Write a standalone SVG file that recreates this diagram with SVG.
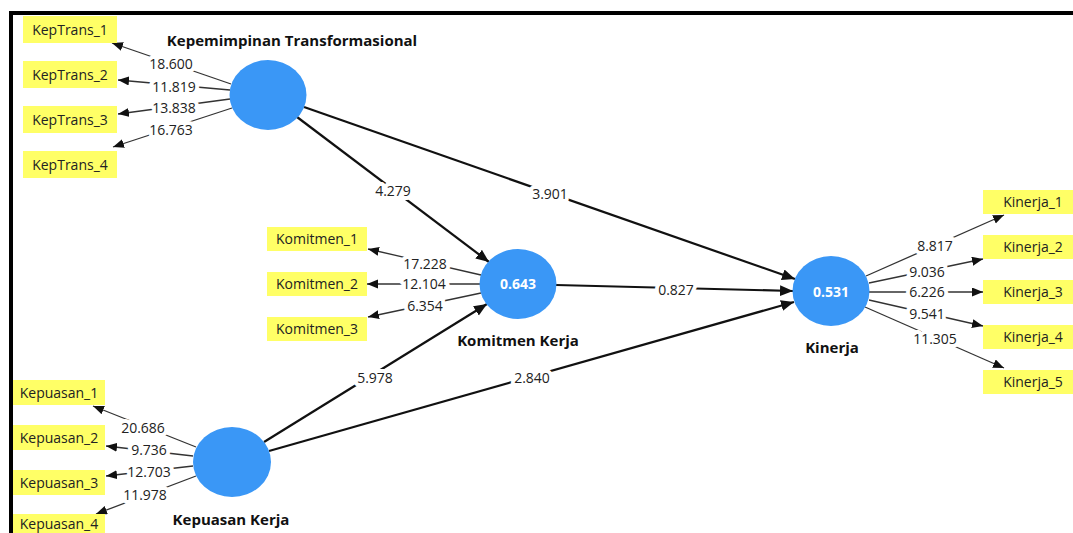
<svg xmlns="http://www.w3.org/2000/svg" width="1073" height="533" viewBox="0 0 1073 533">
<style>
  .box { fill: #ffff66; }
  .boxt { font-family: "Open Sans", "Noto Sans", sans-serif; font-size: 14px; fill: #222; text-anchor: middle; }
  .lv { fill: #3a97f6; }
  .lvname { font-family: "Open Sans", "Noto Sans", sans-serif; font-size: 15px; font-weight: bold; fill: #111; text-anchor: middle; }
  .r2 { font-family: "Open Sans", "Noto Sans", sans-serif; font-size: 14px; font-weight: bold; fill: #ffffff; text-anchor: middle; }
  .ld { stroke: #333; stroke-width: 1.3; fill: none; marker-end: url(#ah); }
  .pth { stroke: #111; stroke-width: 2.2; fill: none; marker-end: url(#ahb); }
  .num { font-family: "Open Sans", "Noto Sans", sans-serif; font-size: 14px; fill: #222; text-anchor: middle; stroke: #ffffff; stroke-width: 8; paint-order: stroke; stroke-linejoin: round; }
</style>
<defs>
  <marker id="ah" markerUnits="userSpaceOnUse" markerWidth="12" markerHeight="10" refX="11" refY="4.5" orient="auto">
    <path d="M0,0 L11,4.5 L0,9 z" fill="#111"/>
  </marker>
  <marker id="ahb" markerUnits="userSpaceOnUse" markerWidth="14" markerHeight="12" refX="13" refY="5.5" orient="auto">
    <path d="M0,0 L13,5.5 L0,11 z" fill="#111"/>
  </marker>
</defs>
<rect x="0" y="0" width="1073" height="533" fill="#ffffff"/>
<path d="M11 533 V13 H1073" stroke="#000" stroke-width="4" fill="none"/>

<g id="connectors">
  <!-- KepTrans loadings -->
  <line class="ld" x1="231" y1="84" x2="112" y2="43"/>
  <line class="ld" x1="230" y1="90" x2="118" y2="80"/>
  <line class="ld" x1="230" y1="99" x2="118" y2="114"/>
  <line class="ld" x1="232" y1="108" x2="113" y2="147"/>
  <!-- Kepuasan loadings -->
  <line class="ld" x1="196" y1="447" x2="93" y2="406"/>
  <line class="ld" x1="193" y1="456" x2="106" y2="446"/>
  <line class="ld" x1="193" y1="466" x2="106" y2="476"/>
  <line class="ld" x1="196" y1="476" x2="96" y2="514"/>
  <!-- Komitmen loadings -->
  <line class="ld" x1="481" y1="275" x2="368" y2="249"/>
  <line class="ld" x1="480" y1="284" x2="367" y2="284"/>
  <line class="ld" x1="481" y1="293" x2="368" y2="317"/>
  <!-- Kinerja loadings -->
  <line class="ld" x1="866" y1="276" x2="1004" y2="215"/>
  <line class="ld" x1="869" y1="283" x2="983" y2="259"/>
  <line class="ld" x1="869" y1="292" x2="983" y2="292"/>
  <line class="ld" x1="869" y1="300" x2="983" y2="326"/>
  <line class="ld" x1="865" y1="307" x2="1004" y2="368"/>
  <!-- structural paths -->
  <line class="pth" x1="297" y1="117" x2="489" y2="262"/>
  <line class="pth" x1="304" y1="107" x2="795" y2="279"/>
  <line class="pth" x1="556" y1="285" x2="793" y2="291"/>
  <line class="pth" x1="264" y1="442" x2="487" y2="304"/>
  <line class="pth" x1="269" y1="451" x2="794" y2="302"/>
  <!-- labels -->
  <text class="num" x="171" y="69">18.600</text>
  <text class="num" x="174" y="92">11.819</text>
  <text class="num" x="174" y="113">13.838</text>
  <text class="num" x="171" y="135">16.763</text>
  <text class="num" x="143" y="433">20.686</text>
  <text class="num" x="149" y="455">9.736</text>
  <text class="num" x="149" y="477">12.703</text>
  <text class="num" x="145" y="500">11.978</text>
  <text class="num" x="425" y="269">17.228</text>
  <text class="num" x="424" y="289">12.104</text>
  <text class="num" x="425" y="311">6.354</text>
  <text class="num" x="935" y="251">8.817</text>
  <text class="num" x="927" y="277">9.036</text>
  <text class="num" x="927" y="297">6.226</text>
  <text class="num" x="927" y="319">9.541</text>
  <text class="num" x="935" y="344">11.305</text>
  <text class="num" x="393" y="196">4.279</text>
  <text class="num" x="550" y="199">3.901</text>
  <text class="num" x="676" y="295">0.827</text>
  <text class="num" x="375" y="383">5.978</text>
  <text class="num" x="532" y="383">2.840</text>
</g>

<g id="KepTrans">
  <ellipse class="lv" cx="268" cy="95" rx="38.5" ry="35"/>
  <text class="lvname" x="292" y="46">Kepemimpinan Transformasional</text>
</g>
<g id="Kepuasan">
  <ellipse class="lv" cx="232" cy="462" rx="39" ry="35"/>
  <text class="lvname" x="231" y="525">Kepuasan Kerja</text>
</g>
<g id="Komitmen">
  <ellipse class="lv" cx="518" cy="284" rx="38.5" ry="35"/>
  <text class="r2" x="518" y="289">0.643</text>
  <text class="lvname" x="518" y="346">Komitmen Kerja</text>
</g>
<g id="Kinerja">
  <ellipse class="lv" cx="831" cy="291" rx="38.5" ry="35"/>
  <text class="r2" x="831" y="297">0.531</text>
  <text class="lvname" x="832" y="353">Kinerja</text>
</g>

<g id="KepTrans_1"><rect class="box" x="23" y="16" width="94" height="27"/><text class="boxt" x="70" y="35">KepTrans_1</text></g>
<g id="KepTrans_2"><rect class="box" x="23" y="61" width="94" height="27"/><text class="boxt" x="70" y="80">KepTrans_2</text></g>
<g id="KepTrans_3"><rect class="box" x="23" y="106" width="94" height="27"/><text class="boxt" x="70" y="125">KepTrans_3</text></g>
<g id="KepTrans_4"><rect class="box" x="23" y="151" width="94" height="27"/><text class="boxt" x="70" y="170">KepTrans_4</text></g>

<g id="Kepuasan_1"><rect class="box" x="13" y="380" width="92" height="25"/><text class="boxt" x="59" y="398">Kepuasan_1</text></g>
<g id="Kepuasan_2"><rect class="box" x="13" y="425" width="92" height="25"/><text class="boxt" x="59" y="443">Kepuasan_2</text></g>
<g id="Kepuasan_3"><rect class="box" x="13" y="470" width="92" height="25"/><text class="boxt" x="59" y="488">Kepuasan_3</text></g>
<g id="Kepuasan_4"><rect class="box" x="13" y="514" width="92" height="25"/><text class="boxt" x="59" y="529">Kepuasan_4</text></g>

<g id="Komitmen_1"><rect class="box" x="267" y="227" width="100" height="24"/><text class="boxt" x="317" y="244">Komitmen_1</text></g>
<g id="Komitmen_2"><rect class="box" x="267" y="272" width="100" height="24"/><text class="boxt" x="317" y="289">Komitmen_2</text></g>
<g id="Komitmen_3"><rect class="box" x="267" y="317" width="100" height="24"/><text class="boxt" x="317" y="334">Komitmen_3</text></g>

<g id="Kinerja_1"><rect class="box" x="983" y="190" width="100" height="24"/><text class="boxt" x="1033" y="207">Kinerja_1</text></g>
<g id="Kinerja_2"><rect class="box" x="983" y="235" width="100" height="24"/><text class="boxt" x="1033" y="252">Kinerja_2</text></g>
<g id="Kinerja_3"><rect class="box" x="983" y="280" width="100" height="24"/><text class="boxt" x="1033" y="297">Kinerja_3</text></g>
<g id="Kinerja_4"><rect class="box" x="983" y="325" width="100" height="24"/><text class="boxt" x="1033" y="342">Kinerja_4</text></g>
<g id="Kinerja_5"><rect class="box" x="983" y="370" width="100" height="24"/><text class="boxt" x="1033" y="387">Kinerja_5</text></g>
</svg>
